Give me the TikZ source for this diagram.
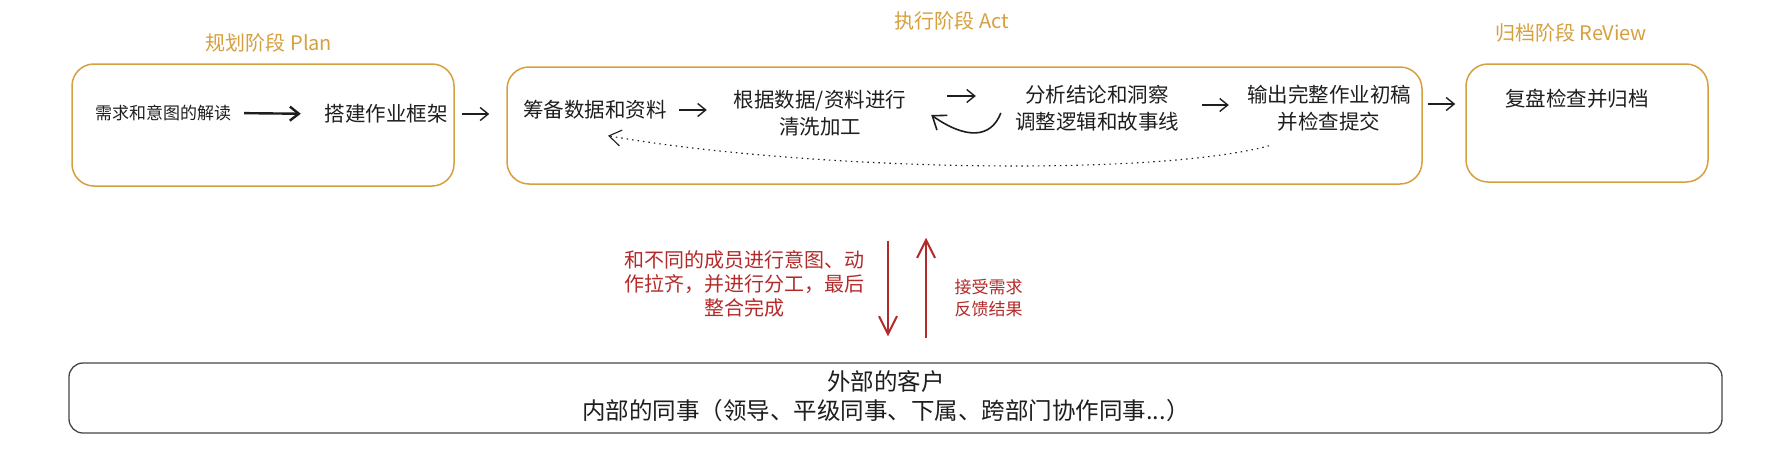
\documentclass[tikz,border=0pt]{standalone}
\usepackage{fontspec}
\setmainfont{Noto Sans CJK SC}
\usetikzlibrary{arrows.meta,calc}
\definecolor{gold}{RGB}{214,160,62}
\definecolor{redc}{RGB}{180,42,42}
\definecolor{ink}{RGB}{30,30,30}
\definecolor{edgec}{RGB}{70,70,70}
\begin{document}
\begin{tikzpicture}[x=1pt,y=-1pt,
  phase/.style={draw=gold, line width=1.5pt, rounded corners=22pt, inner sep=0pt},
  custbox/.style={draw=edgec, line width=1.3pt, rounded corners=14pt, inner sep=0pt},
  title/.style={text=gold, inner sep=0pt, font=\fontsize{20}{24}\selectfont},
  txt/.style={text=ink, inner sep=0pt, align=center, font=\fontsize{20.5}{27}\selectfont},
  smalltxt/.style={text=ink, inner sep=0pt, font=\fontsize{17}{20}\selectfont},
  redtxt/.style={text=redc, inner sep=0pt, align=center},
  arr/.style={draw=ink, line width=1.4pt, -{Straight Barb[length=8pt,width=13pt]}},
  curvarr/.style={draw=ink, line width=1.6pt, -{Straight Barb[length=12pt,width=18pt]}},
  bigarr/.style={draw=ink, line width=2.4pt, -{Straight Barb[length=9pt,width=14pt]}},
  dotarr/.style={draw=ink, line width=1.1pt, dash pattern=on 1.5pt off 4pt, -{Straight Barb[length=12pt,width=16pt]}},
  redarr/.style={draw=redc, line width=2pt, -{Straight Barb[length=18pt,width=18pt]}}
]
\useasboundingbox (0,0) rectangle (1768,455);
\fill[white] (0,0) rectangle (1768,455);

% phase boxes
\node[phase, minimum width=382pt, minimum height=122pt] (box1) at (263,125) {};
\node[phase, minimum width=915pt, minimum height=117pt] (box2) at (964.5,125.5) {};
\node[phase, minimum width=242pt, minimum height=118pt] (box3) at (1587,123) {};

% titles
\node[title] (tplan) at (269,43) {规划阶段 Plan};
\node[title] (tact) at (952,21) {执行阶段 Act};
\node[title] (trev) at (1571,33) {归档阶段 ReView};

% texts
\node[smalltxt] (n1) at (163,113) {需求和意图的解读};
\node[txt] (n2) at (386,114) {搭建作业框架};
\node[txt] (n3) at (595,110) {筹备数据和资料};
\node[txt] (n4) at (820,113.5) {根据数据/资料进行\\清洗加工};
\node[txt] (n5) at (1097,108.5) {分析结论和洞察\\调整逻辑和故事线};
\node[txt] (n6) at (1329,108.5) {输出完整作业初稿\\并检查提交};
\node[txt] (n7) at (1577,99) {复盘检查并归档};

% arrows
\draw[bigarr, shorten <=13pt, shorten >=23.5pt] (n1.east) -- (n2.west);
\draw[arr, shorten <=7pt, shorten >=17pt] (box1.east |- n2) -- (box2.west |- n2);
\draw[arr, shorten <=12pt, shorten >=27pt] (n3.east) -- (n3.east -| n4.west);
\draw[arr] ($(n4.east)+(41,-17.5)$) -- ($(n5.west)+(-39,-12.5)$);
\draw[curvarr] ($(n5.west)+(-14,4.5)$) .. controls +(-10,26) and +(34,24) .. ($(n4.east)+(25,1.5)$);
\draw[arr, shorten <=23pt, shorten >=18pt] ($(n5.east)+(0,-3.5)$) -- ($(n5.east -| n6.west)+(0,-3.5)$);
\draw[arr, shorten <=5pt, shorten >=10pt] ($(box2.east |- n7)+(0,5)$) -- ($(box3.west |- n7)+(0,5)$);
\draw[dotarr] ($(n6.south)+(-60,14)$) .. controls +(-120,32) and +(192,34) .. ($(n3.south)+(13,16)$);

% bottom box
\node[custbox, minimum width=1653pt, minimum height=70pt] (cbox) at (895.5,398) {};
\node[text=ink, inner sep=0pt, align=center, font=\fontsize{23.5}{29}\selectfont] (ctext) at (886,396)
  {外部的客户\\内部的同事（领导、平级同事、下属、跨部门协作同事...）};

% red arrows and texts
\draw[redarr] ($(box2.south)+(-76.5,56)$) -- ($(cbox.north)+(-7.5,-26)$);
\draw[redarr] ($(cbox.north)+(30.5,-24)$) -- ($(box2.south)+(-38.5,53)$);
\node[redtxt, font=\fontsize{20}{24}\selectfont] (rl) at (744.5,284)
  {和不同的成员进行意图、动\\作拉齐，并进行分工，最后\\整合完成};
\node[redtxt, font=\fontsize{17}{22}\selectfont] (rr) at (988.5,298) {接受需求\\反馈结果};
\end{tikzpicture}
\end{document}
